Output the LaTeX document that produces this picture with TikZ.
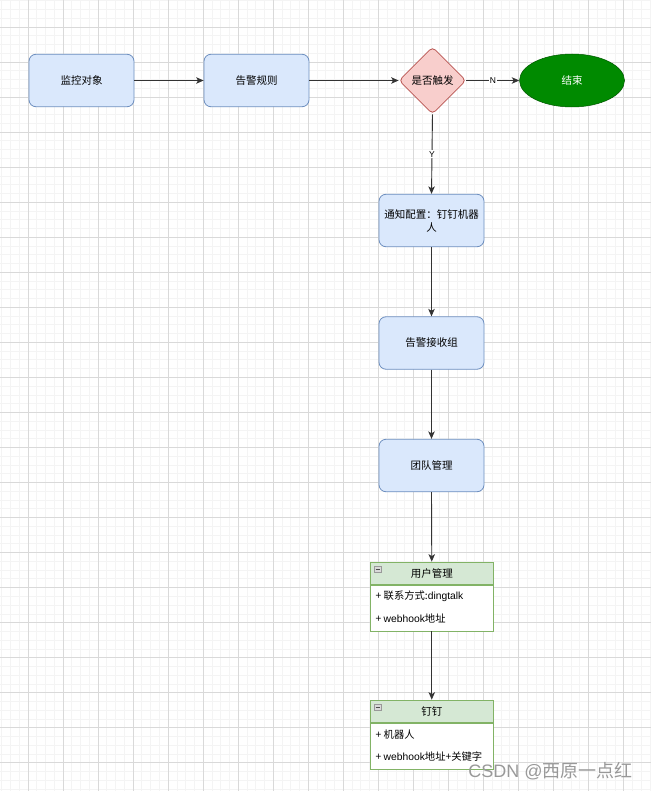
\documentclass[tikz,border=0pt]{standalone}
\usepackage{fontspec}
\setmainfont{Noto Sans CJK SC}
\newfontfamily\lat{Liberation Sans}
\usetikzlibrary{shapes.geometric,arrows.meta}
\definecolor{bfill}{HTML}{DAE8FC}
\definecolor{bline}{HTML}{6C8EBF}
\definecolor{rfill}{HTML}{F8CECC}
\definecolor{rline}{HTML}{B85450}
\definecolor{gfill}{HTML}{008A00}
\definecolor{gline}{HTML}{005700}
\definecolor{tfill}{HTML}{D5E8D4}
\definecolor{tline}{HTML}{82B366}
\definecolor{minorc}{HTML}{F4F4F4}
\definecolor{majorc}{HTML}{D9D9D9}
\definecolor{edgec}{HTML}{333333}
\begin{document}
\begin{tikzpicture}[x=1pt,y=-1pt,
  lbl/.style={font=\fontsize{10.5}{13}\selectfont},
  proc/.style={draw=bline,fill=bfill,rounded corners=7pt,minimum width=105pt,minimum height=52.5pt,inner sep=0pt,align=center,lbl,line width=0.8pt},
  decis/.style={diamond,draw=rline,fill=rfill,rounded corners=4pt,minimum width=67pt,minimum height=67pt,aspect=1,inner sep=0pt,lbl,line width=0.8pt},
  term/.style={ellipse,draw=gline,fill=gfill,minimum width=105pt,minimum height=53pt,inner sep=0pt,text=white,lbl,line width=0.5pt},
  thead/.style={draw=tline,fill=tfill,minimum width=122.5pt,minimum height=22.75pt,inner sep=0pt,lbl,line width=0.8pt},
  tbody/.style={draw=tline,fill=white,minimum width=122.5pt,minimum height=45.5pt,inner sep=0pt,line width=0.8pt},
  trow/.style={anchor=west,inner sep=0pt,font=\fontsize{10.3}{12}\selectfont},
  flow/.style={draw=edgec,line width=0.9pt,-{Stealth[length=7.5pt,width=6.5pt,inset=2pt]}},
  elbl/.style={fill=white,inner sep=1pt,font=\lat\fontsize{8.5}{9}\selectfont},
  minor/.style={draw=minorc,line width=0.8pt},
  major/.style={draw=majorc,line width=0.8pt},
  icon/.style={draw=gray!80,fill=gray!30,line width=0.5pt}
]
\useasboundingbox (0,0) rectangle (651,791);
\fill[white] (0,0) rectangle (651,791);
% grid
\foreach \i in {0,...,76} {
  \draw[minor] ({-7.04+8.76*\i},0) -- ++(0,791);
}
\foreach \i in {0,...,94} {
  \draw[minor] (0,{-8.04+8.76*\i}) -- ++(651,0);
}
\foreach \i in {0,...,19} {
  \draw[major] ({-7.04+35.04*\i},0) -- ++(0,791);
}
\foreach \i in {0,...,23} {
  \draw[major] (0,{-8.04+35.04*\i}) -- ++(651,0);
}
% nodes
\node[proc] (mon) at (81.5,80.5) {监控对象};
\node[proc] (rule) at (256.5,80.5) {告警规则};
\node[decis] (dec) at (432.5,80.5) {是否触发};
\node[term] (end) at (572,80.5) {结束};
\node[proc] (notify) at (431.5,220.5) {通知配置：钉钉机器\\人};
\node[proc] (recv) at (431.5,343) {告警接收组};
\node[proc] (team) at (431.5,465.5) {团队管理};
% table 1
\node[thead] (uh) at (431.75,573.4) {用户管理};
\node[tbody,anchor=north] (ub) at (uh.south) {};
\node[trow] (u1) at (375.5,596.3) {+ 联系方式:{\lat dingtalk}};
\node[trow] (u2) at (375.5,618.5) {+ {\lat webhook}地址};
\draw[icon] (374.3,566.5) rectangle (381,572.2);
\draw[line width=0.8pt,black!70] (375.6,569.35) -- (379.7,569.35);
% table 2
\node[thead] (dh) at (431.75,711.4) {钉钉};
\node[tbody,anchor=north] (db) at (dh.south) {};
\node[trow] (d1) at (375.5,734.3) {+ 机器人};
\node[trow] (d2) at (375.5,756.5) {+ {\lat webhook}地址+关键字};
\draw[icon] (374.3,704.5) rectangle (381,710.2);
\draw[line width=0.8pt,black!70] (375.6,707.35) -- (379.7,707.35);
% edges
\draw[flow] (mon.east) -- (rule.west);
\draw[flow] (rule.east) -- (dec.west);
\draw[flow] (dec.east) -- node[elbl] (nlab) {N} (end.west);
\draw[flow] (dec.south) -- node[elbl] (ylab) {Y} (notify.north);
\draw[flow] (notify.south) -- (recv.north);
\draw[flow] (recv.south) -- (team.north);
\draw[flow] (team.south) -- (uh.north);
\draw[flow] (ub.south) -- (dh.north);
% watermark
\node[text=black!40,font=\fontsize{18}{20}\selectfont,inner sep=0pt] (wm) at (550.5,771) {{\lat CSDN @}西原一点红};
\end{tikzpicture}
\end{document}
